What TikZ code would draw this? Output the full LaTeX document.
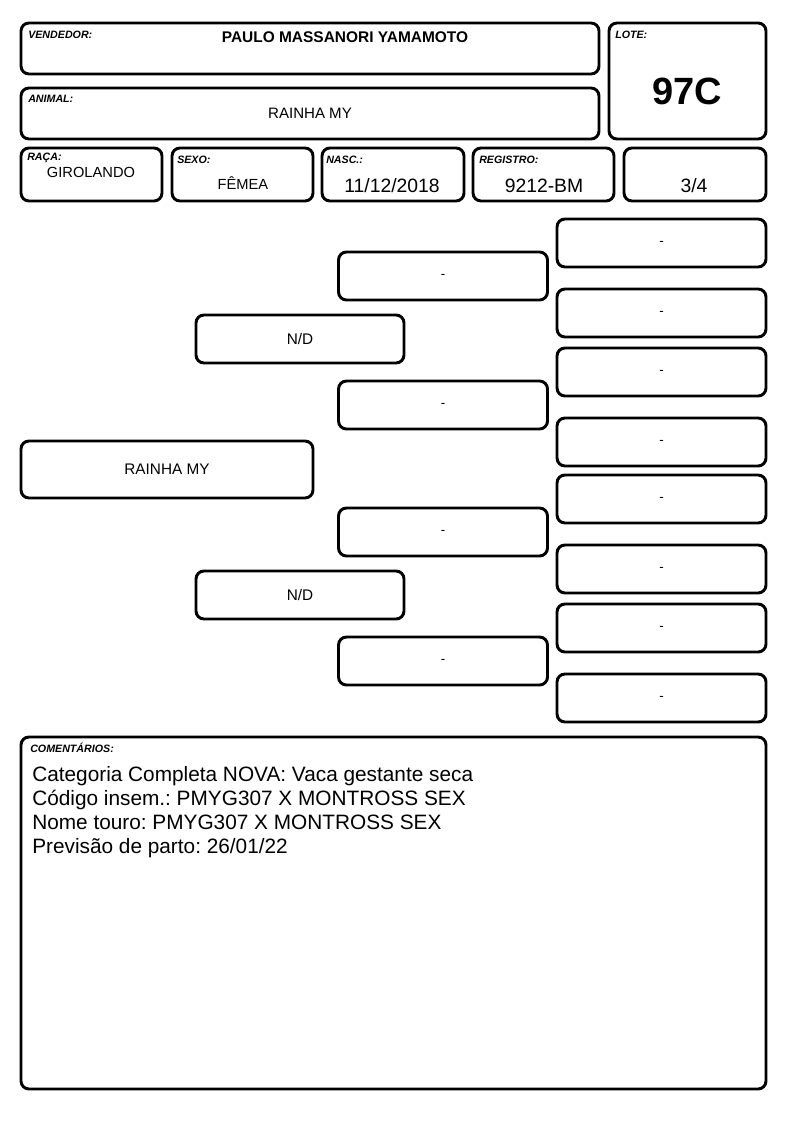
\documentclass[tikz,border=0pt]{standalone}
\usepackage{fontspec}
\setmainfont{Liberation Sans}
\frenchspacing
\newcommand\setfs[1]{\fontsize{#1}{#1}\selectfont}
\begin{document}
\begin{tikzpicture}[x=0.75pt,y=-0.75pt,
  box/.style n args={2}{draw=black, line width=2.2pt, rounded corners=6pt,
    minimum width=#1*0.75pt, minimum height=#2*0.75pt, inner sep=0pt},
  lbl/.style={anchor=west, inner sep=0pt, font=\setfs{8}\bfseries\itshape},
  val/.style={inner sep=0pt, font=\setfs{11}},
  big/.style={inner sep=0pt, font=\setfs{14.5}},
  ped/.style={inner sep=0pt, font=\setfs{11.5}},
  emptytxt/.style={inner sep=0pt, font=\setfs{10}},
  com/.style={anchor=base west, inner sep=0pt, font=\setfs{15.6}}]
\useasboundingbox[fill=white] (0,0) rectangle (794,1123);

% header boxes
\node[box={578}{51}] (vend) at (310,48.5) {};
\node[box={157}{116}] (lote) at (687.5,81) {};
\node[box={578}{51}] (anim) at (310,113.5) {};
\node[box={141}{53}] (raca) at (91.5,174.5) {};
\node[box={141}{53}] (sexo) at (242.5,174.5) {};
\node[box={142}{53}] (nasc) at (393,174.5) {};
\node[box={141}{53}] (reg) at (543.5,174.5) {};
\node[box={142}{53}] (frac) at (695,174.5) {};

\node[lbl] (vendl) at (28,35) {VENDEDOR:};
\node[inner sep=0pt, font=\setfs{11.6}\bfseries] (vendv) at (345,37) {PAULO MASSANORI YAMAMOTO};
\node[lbl] (lotel) at (615,35) {LOTE:};
\node[inner sep=0pt, font=\setfs{28.5}\bfseries] (lotev) at (687,91) {97C};
\node[lbl] (animl) at (28,99) {ANIMAL:};
\node[inner sep=0pt, font=\setfs{11.3}] (animv) at (310,113) {RAINHA MY};
\node[lbl] (racal) at (27,158) {RAÇA:};
\node[val] (racav) at (91,172) {GIROLANDO};
\node[lbl] (sexol) at (177,160) {SEXO:};
\node[val] (sexov) at (243,183) {FÊMEA};
\node[lbl] (nascl) at (326,160) {NASC.:};
\node[big] (nascv) at (392,186) {11/12/2018};
\node[lbl] (regl) at (479,160) {REGISTRO:};
\node[big] (regv) at (544,186) {9212-BM};
\node[big] (fracv) at (694,186) {3/4};

% pedigree
\node[box={292}{57}, ped] (p1) at (167,469.5) {RAINHA MY};
\node[box={208}{48}, ped] (p2a) at (300,339) {N/D};
\node[box={208}{48}, ped] (p2b) at (300,595) {N/D};
\node[box={209}{48}, emptytxt] (p3a) at (443,276) {-};
\node[box={209}{48}, emptytxt] (p3b) at (443,405) {-};
\node[box={209}{48}, emptytxt] (p3c) at (443,532) {-};
\node[box={209}{48}, emptytxt] (p3d) at (443,661) {-};
\node[box={209}{48}, emptytxt] (p4a) at (661.5,243) {-};
\node[box={209}{48}, emptytxt] (p4b) at (661.5,313) {-};
\node[box={209}{48}, emptytxt] (p4c) at (661.5,372) {-};
\node[box={209}{48}, emptytxt] (p4d) at (661.5,442) {-};
\node[box={209}{48}, emptytxt] (p4e) at (661.5,499) {-};
\node[box={209}{48}, emptytxt] (p4f) at (661.5,569) {-};
\node[box={209}{48}, emptytxt] (p4g) at (661.5,628) {-};
\node[box={209}{48}, emptytxt] (p4h) at (661.5,698) {-};

% comments
\node[box={745}{352}] (comb) at (393.5,913) {};
\node[lbl] (coml) at (30,748) {COMENTÁRIOS:};
\node[com] (c1) at (32,781) {Categoria Completa NOVA: Vaca gestante seca};
\node[com] (c2) at (32,805) {Código insem.: PMYG307 X MONTROSS SEX};
\node[com] (c3) at (32,829) {Nome touro: PMYG307 X MONTROSS SEX};
\node[com] (c4) at (32,853) {Previsão de parto: 26/01/22};
\end{tikzpicture}
\end{document}
